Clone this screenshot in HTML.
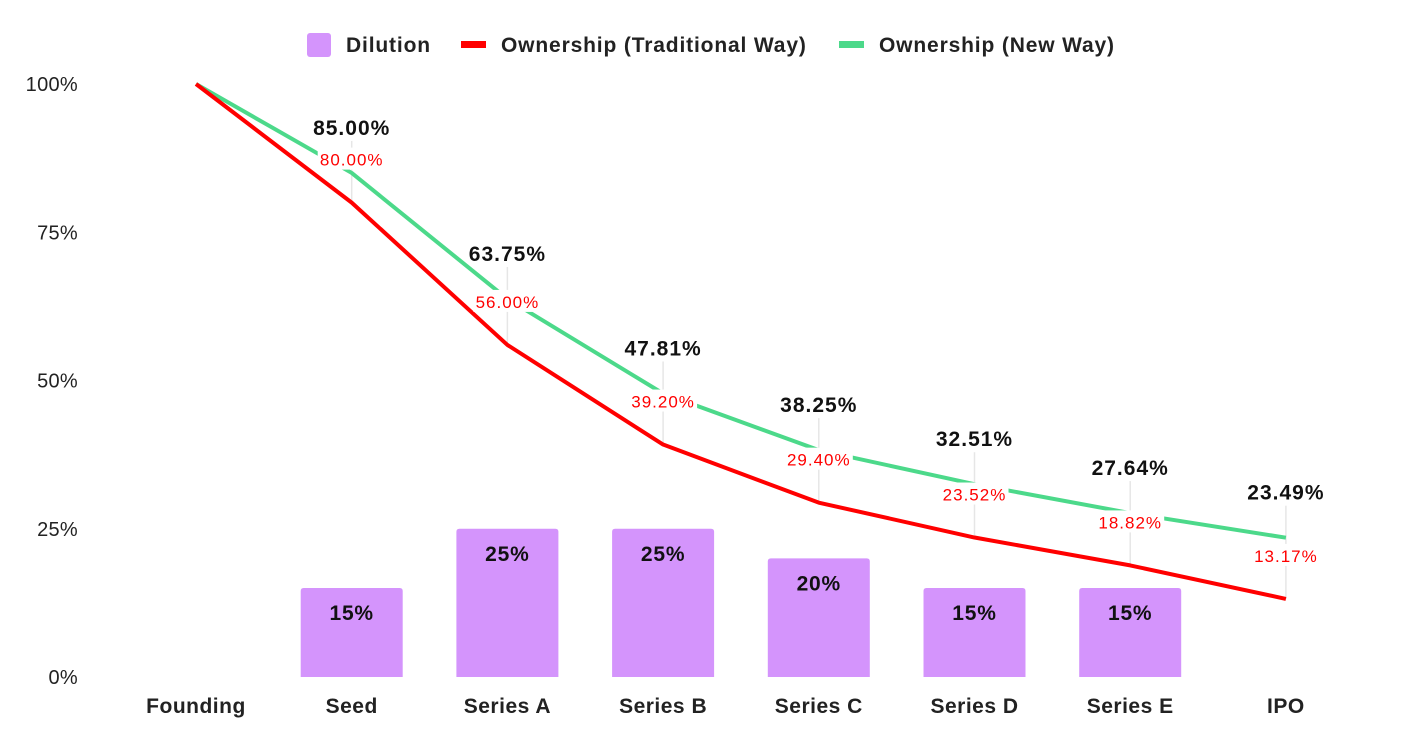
<!DOCTYPE html>
<html><head><meta charset="utf-8"><style>
html,body{margin:0;padding:0;background:#fff;}
svg{display:block;font-family:"Liberation Sans",Roboto,sans-serif;}
</style></head><body>
<svg id="chart" width="1410" height="750" viewBox="0 0 1410 750">
<g id="legend">
 <g><rect x="307" y="33" width="24" height="24" rx="3" fill="#d494fc"/><text x="346" y="52" font-size="21" font-weight="bold" fill="#222" letter-spacing="0.85">Dilution</text></g>
 <g><rect x="461" y="41" width="25" height="7" fill="#ff0000"/><text x="501" y="52" font-size="21" font-weight="bold" fill="#222" letter-spacing="0.85">Ownership (Traditional Way)</text></g>
 <g><rect x="839" y="41" width="25" height="7" fill="#4cd98a"/><text x="879" y="52" font-size="21" font-weight="bold" fill="#222" letter-spacing="0.85">Ownership (New Way)</text></g>
</g>
<g id="yaxis"></g>
<g id="xaxis"></g>
<g id="bars"></g>
<g id="lines"></g>
<g id="labels"></g>
</svg>
<script>
const categories=["Founding","Seed","Series A","Series B","Series C","Series D","Series E","IPO"];
const dilution=[null,15,25,25,20,15,15,null];
const traditional=[100,80,56,39.2,29.4,23.52,18.82,13.17];
const newWay=[100,85,63.75,47.81,38.25,32.51,27.64,23.49];
const yTicks=[0,25,50,75,100];
const NS="http://www.w3.org/2000/svg";
const x=i=>196+i*155.7;
const y=v=>677-v*5.93;
function mk(tag,attrs,parent,txt){const e=document.createElementNS(NS,tag);for(const k in attrs)e.setAttribute(k,attrs[k]);if(txt!==undefined)e.textContent=txt;parent.appendChild(e);return e;}
const ya=document.getElementById('yaxis'),xa=document.getElementById('xaxis'),bars=document.getElementById('bars'),lines=document.getElementById('lines'),labels=document.getElementById('labels');
yTicks.forEach(t=>{const e=mk('text',{x:78,y:y(t)+7,'text-anchor':'end','font-size':20,fill:'#222','letter-spacing':0.3},ya,t+'%');

});
categories.forEach((c,i)=>{const e=mk('text',{x:x(i),y:713,'text-anchor':'middle','font-size':21,'font-weight':'bold',fill:'#222','letter-spacing':0.5},xa,c);

});
dilution.forEach((d,i)=>{if(d===null)return;
const r=mk('path',{d:`M${x(i)-51},${y(0)} V${y(d)+3} q0,-3 3,-3 H${x(i)+48} q3,0 3,3 V${y(0)} Z`,fill:'#d494fc'},bars);


const t=mk('text',{x:x(i),y:y(d)+32,'text-anchor':'middle','font-size':21,'font-weight':'bold',fill:'#111','letter-spacing':0.8},bars,d+'%');

});
traditional.forEach((v,i)=>{if(i===0)return;
const l=mk('line',{x1:x(i),x2:x(i),y1:y(newWay[i])-32,y2:y(v),stroke:'#e6e6e6','stroke-width':1.5},lines);

});
const pts=a=>a.map((v,i)=>x(i)+','+y(v)).join(' ');
const gl=mk('polyline',{points:pts(newWay),fill:'none',stroke:'#4cd98a','stroke-width':4,'stroke-linejoin':'round'},lines);


const rl=mk('polyline',{points:pts(traditional),fill:'none',stroke:'#ff0000','stroke-width':4,'stroke-linejoin':'round'},lines);


newWay.forEach((v,i)=>{if(i===0)return;
const t=mk('text',{x:x(i),y:y(v)-38,'text-anchor':'middle','font-size':21,'font-weight':'bold',fill:'#111','letter-spacing':1},labels,v.toFixed(2)+'%');


const rv=traditional[i];
const bg=mk('rect',{x:x(i)-34,y:y(rv)-55,width:68,height:22,fill:'#fff'},labels);


const r=mk('text',{x:x(i),y:y(rv)-37,'text-anchor':'middle','font-size':17,fill:'#ff0000','letter-spacing':1},labels,rv.toFixed(2)+'%');

});
</script>
</body></html>
